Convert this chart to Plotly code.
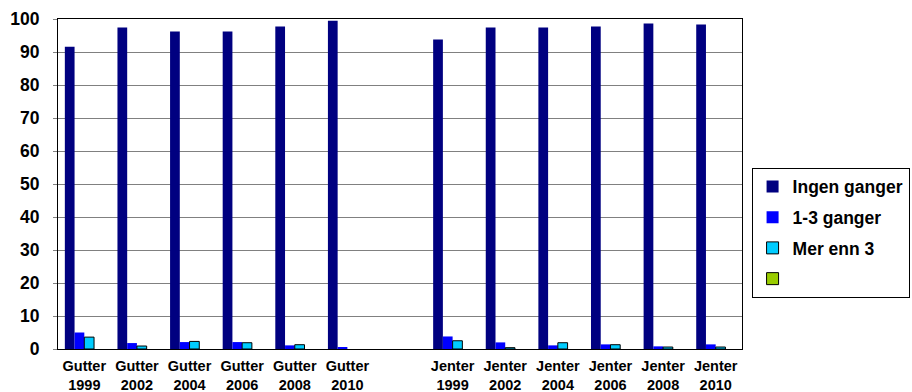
import plotly.graph_objects as go

categories = ["Gutter<br>1999", "Gutter<br>2002", "Gutter<br>2004", "Gutter<br>2006",
              "Gutter<br>2008", "Gutter<br>2010", " ",
              "Jenter<br>1999", "Jenter<br>2002", "Jenter<br>2004", "Jenter<br>2006",
              "Jenter<br>2008", "Jenter<br>2010"]

ingen_ganger = [91.6, 97.4, 96.2, 96.2, 97.7, 99.5, None, 93.8, 97.4, 97.4, 97.7, 98.6, 98.3]
en_tre_ganger = [5.0, 1.8, 2.1, 2.1, 1.1, 0.5, None, 3.8, 2.0, 1.1, 1.4, 0.8, 1.4]
mer_enn_3 = [3.6, 0.9, 2.3, 1.9, 1.3, None, None, 2.5, 0.4, 1.9, 1.3, 0.6, 0.6]
tom_serie = [None] * 13

series_names = ["Ingen ganger", "1-3 ganger", "Mer enn 3", " "]
series_values = [ingen_ganger, en_tre_ganger, mer_enn_3, tom_serie]
series_colors = ["#000080", "#0000FF", "#00CCFF", "#99CC00"]
series_lines = [0, 0, 1, 1]

y_ticks = [0, 10, 20, 30, 40, 50, 60, 70, 80, 90, 100]

FONT = "Liberation Sans, Arial, sans-serif"

fig = go.Figure()
for i, (name, vals, col, lw) in enumerate(zip(series_names, series_values, series_colors, series_lines)):
    fig.add_trace(go.Bar(
        x=categories, y=vals, name=name, legendgroup=f"g{i}",
        marker=dict(color=col, line=dict(color="#000000", width=lw)),
    ))

fig.update_layout(
    width=912, height=392,
    margin=dict(l=58, r=170, t=19, b=43, autoexpand=False),
    paper_bgcolor="white", plot_bgcolor="white",
    barmode="group", bargap=0.26, bargroupgap=0,
    font=dict(family=FONT, color="black"),
    showlegend=True,
    legend=dict(
        x=1.014, xanchor="left", y=0.55, yanchor="top",
        bordercolor="black", borderwidth=1, bgcolor="white",
        font=dict(size=17.5, family=FONT, color="black", weight="bold"),
        tracegroupgap=5, itemwidth=30,
    ),
    xaxis=dict(
        categoryorder="array", categoryarray=categories, automargin=False,
        showgrid=False, showline=True, linecolor="black", linewidth=1, mirror=True,
        ticks="", tickfont=dict(size=14.5, family=FONT, weight="bold"),
        ticklabelstandoff=4,
    ),
    yaxis=dict(
        range=[0, 100], tickvals=y_ticks, automargin=False,
        showgrid=True, gridcolor="#808080", gridwidth=1,
        showline=True, linecolor="black", linewidth=1, mirror=True,
        ticks="outside", ticklen=4, tickcolor="#808080",
        tickfont=dict(size=17.5, family=FONT, weight="bold"),
        ticklabelstandoff=10, zeroline=False,
    ),
)

fig.write_html("out.html")
